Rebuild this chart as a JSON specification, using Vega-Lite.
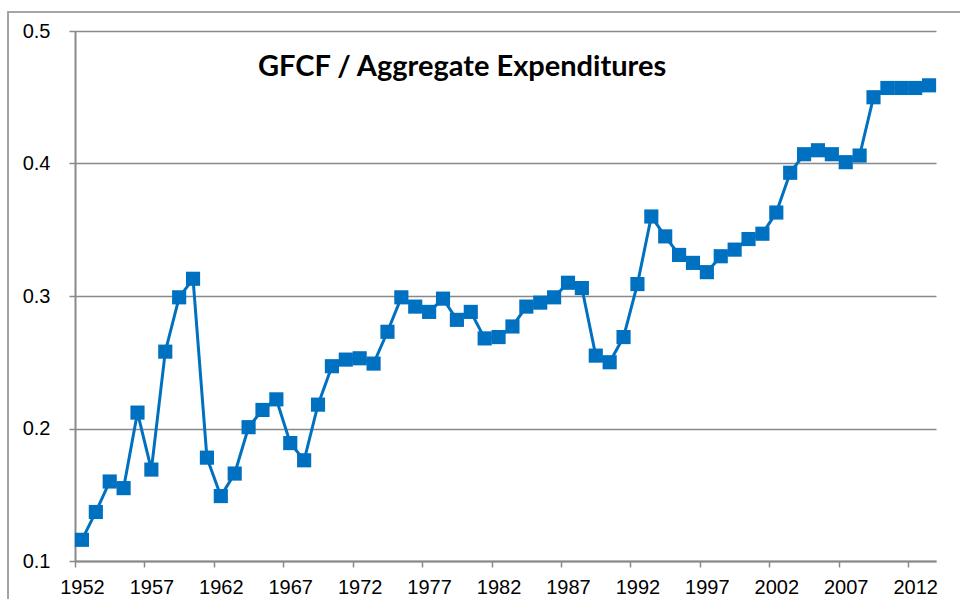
{
  "$schema": "https://vega.github.io/schema/vega-lite/v6.json",
  "width": 861,
  "height": 530,
  "autosize": {"type": "none"},
  "padding": {"left": 75, "top": 31, "right": 24, "bottom": 38},
  "background": "white",
  "title": {
    "text": "GFCF / Aggregate Expenditures",
    "anchor": "start",
    "frame": "group",
    "orient": "top",
    "font": "Lato",
    "fontSize": 29,
    "fontWeight": "bold",
    "color": "black",
    "dx": 183,
    "dy": 93,
    "offset": 0,
    "baseline": "alphabetic"
  },
  "config": {
    "view": {"stroke": null},
    "axis": {
      "domainColor": "#898989",
      "tickColor": "#898989",
      "gridColor": "#898989",
      "labelColor": "black",
      "tickSize": 6,
      "title": null
    }
  },
  "data": {
    "values": [
      {"year": 1952, "value": 0.116},
      {"year": 1953, "value": 0.137},
      {"year": 1954, "value": 0.160},
      {"year": 1955, "value": 0.155},
      {"year": 1956, "value": 0.212},
      {"year": 1957, "value": 0.169},
      {"year": 1958, "value": 0.258},
      {"year": 1959, "value": 0.299},
      {"year": 1960, "value": 0.313},
      {"year": 1961, "value": 0.178},
      {"year": 1962, "value": 0.149},
      {"year": 1963, "value": 0.166},
      {"year": 1964, "value": 0.201},
      {"year": 1965, "value": 0.214},
      {"year": 1966, "value": 0.222},
      {"year": 1967, "value": 0.189},
      {"year": 1968, "value": 0.176},
      {"year": 1969, "value": 0.218},
      {"year": 1970, "value": 0.247},
      {"year": 1971, "value": 0.252},
      {"year": 1972, "value": 0.253},
      {"year": 1973, "value": 0.249},
      {"year": 1974, "value": 0.273},
      {"year": 1975, "value": 0.299},
      {"year": 1976, "value": 0.292},
      {"year": 1977, "value": 0.288},
      {"year": 1978, "value": 0.298},
      {"year": 1979, "value": 0.282},
      {"year": 1980, "value": 0.288},
      {"year": 1981, "value": 0.268},
      {"year": 1982, "value": 0.269},
      {"year": 1983, "value": 0.277},
      {"year": 1984, "value": 0.292},
      {"year": 1985, "value": 0.295},
      {"year": 1986, "value": 0.299},
      {"year": 1987, "value": 0.310},
      {"year": 1988, "value": 0.306},
      {"year": 1989, "value": 0.255},
      {"year": 1990, "value": 0.250},
      {"year": 1991, "value": 0.269},
      {"year": 1992, "value": 0.309},
      {"year": 1993, "value": 0.360},
      {"year": 1994, "value": 0.345},
      {"year": 1995, "value": 0.331},
      {"year": 1996, "value": 0.325},
      {"year": 1997, "value": 0.318},
      {"year": 1998, "value": 0.330},
      {"year": 1999, "value": 0.335},
      {"year": 2000, "value": 0.343},
      {"year": 2001, "value": 0.347},
      {"year": 2002, "value": 0.363},
      {"year": 2003, "value": 0.393},
      {"year": 2004, "value": 0.407},
      {"year": 2005, "value": 0.410},
      {"year": 2006, "value": 0.407},
      {"year": 2007, "value": 0.401},
      {"year": 2008, "value": 0.406},
      {"year": 2009, "value": 0.450},
      {"year": 2010, "value": 0.457},
      {"year": 2011, "value": 0.457},
      {"year": 2012, "value": 0.457},
      {"year": 2013, "value": 0.459}
    ]
  },
  "layer": [
    {
      "mark": {"type": "rule", "color": "#a6a6a6", "strokeWidth": 1, "clip": false},
      "encoding": {
        "x": {"datum": 1946.65, "type": "quantitative", "scale": {"domain": [1951.5, 2013.5], "nice": false, "zero": false}},
        "x2": {"datum": 2020},
        "y": {"datum": 0.5143, "type": "quantitative", "scale": {"domain": [0.1, 0.5], "nice": false, "zero": false}}
      }
    },
    {
      "mark": {"type": "rule", "color": "#a6a6a6", "strokeWidth": 1, "clip": false},
      "encoding": {
        "x": {"datum": 1946.65, "type": "quantitative"},
        "y": {"datum": 0.5143, "type": "quantitative"},
        "y2": {"datum": 0.05}
      }
    },
    {
      "mark": {"type": "line", "color": "#0070C0", "strokeWidth": 3},
      "encoding": {
        "x": {
          "field": "year",
          "type": "quantitative",
          "scale": {"domain": [1951.5, 2013.5], "nice": false, "zero": false},
          "axis": {
            "values": [1952, 1957, 1962, 1967, 1972, 1977, 1982, 1987, 1992, 1997, 2002, 2007, 2012],
            "format": "d",
            "tickOffset": -6.94,
            "labelOffset": 6.94,
            "grid": false,
            "domainWidth": 2,
            "tickWidth": 1.5,
            "labelFont": "Liberation Sans",
            "labelFontSize": 20,
            "labelPadding": 10,
            "labelFlush": false,
            "labelOverlap": false
          }
        },
        "y": {
          "field": "value",
          "type": "quantitative",
          "scale": {"domain": [0.1, 0.5], "nice": false, "zero": false},
          "axis": {
            "values": [0.1, 0.2, 0.3, 0.4, 0.5],
            "format": ".1f",
            "grid": true,
            "gridWidth": 1.5,
            "domainWidth": 2,
            "tickWidth": 1.5,
            "labelFont": "Liberation Sans",
            "labelFontSize": 20,
            "labelPadding": 19,
            "labelFlush": false,
            "labelOverlap": false
          }
        }
      }
    },
    {
      "mark": {"type": "square", "size": 200, "filled": true, "color": "#0070C0", "opacity": 1},
      "encoding": {
        "x": {"field": "year", "type": "quantitative"},
        "y": {"field": "value", "type": "quantitative"}
      }
    }
  ]
}
